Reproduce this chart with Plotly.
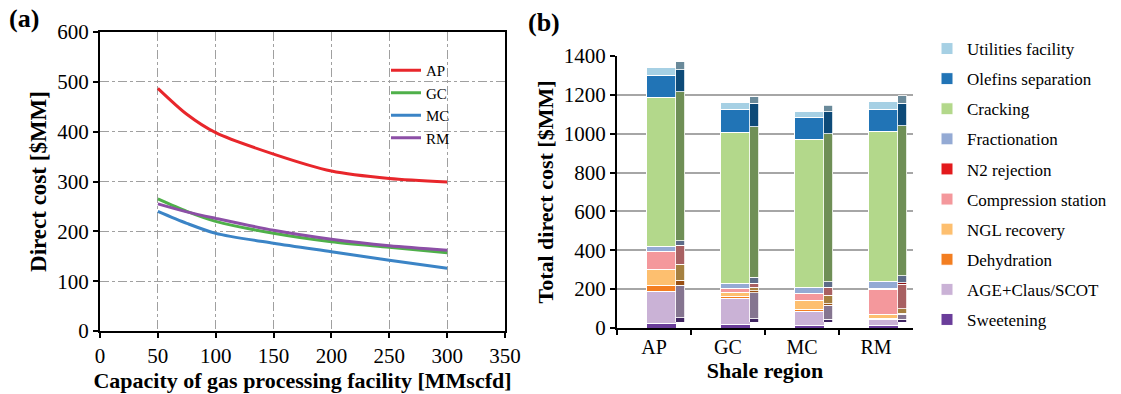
import plotly.graph_objects as go

# ---- Data: panel (a) ----
capacity = [50, 75, 100, 150, 200, 250, 300]
cost_AP = [487, 435, 398, 355, 321, 306, 299]
cost_GC = [265, 240, 220, 196, 179, 168, 157]
cost_MC = [240, 216, 196, 176, 159, 142, 126]
cost_RM = [255, 239, 226, 202, 184, 171, 162]

# ---- Data: panel (b) ----
regions = ["AP", "GC", "MC", "RM"]
sweetening = [24, 17, 14, 14]
age_claus = [165, 135, 72, 28]
dehydration = [28, 9, 9, 5]
ngl_recovery = [82, 20, 44, 23]
compression = [97, 20, 40, 126]
n2_rejection = [0, 0, 0, 8]
fractionation = [23, 29, 28, 35]
cracking = [766, 777, 762, 771]
olefins = [115, 120, 113, 117]
utilities = [40, 34, 34, 38]

FONT = "Liberation Serif"
fig = go.Figure()

line_series = [("AP", cost_AP, "#e8262b"), ("GC", cost_GC, "#4fb04a"),
               ("MC", cost_MC, "#3b84c6"), ("RM", cost_RM, "#8c4fa6")]
for name, vals, col in line_series:
    fig.add_trace(go.Scatter(x=capacity, y=vals, name=name, mode="lines",
                             line=dict(color=col, width=3, shape="spline", smoothing=0.8),
                             xaxis="x", yaxis="y", legend="legend2"))

# (name, values, front colour, side colour for the pseudo-3D depth face)
bar_series = [
    ("Sweetening", sweetening, "#6a3d9a", "#3f2460"),
    ("AGE+Claus/SCOT", age_claus, "#cab2d6", "#857590"),
    ("Dehydration", dehydration, "#f37e21", "#9a5014"),
    ("NGL recovery", ngl_recovery, "#fdbf6f", "#a58040"),
    ("Compression station", compression, "#f4989c", "#a86062"),
    ("N2 rejection", n2_rejection, "#e31a1c", "#8e1012"),
    ("Fractionation", fractionation, "#94aad4", "#5d6c88"),
    ("Cracking", cracking, "#b3d88b", "#6f8f56"),
    ("Olefins separation", olefins, "#2174b6", "#0d4a78"),
    ("Utilities facility", utilities, "#a6d0e4", "#6a8a9a"),
]
# side faces first (drawn behind), on an overlaying axis shifted slightly up
for name, vals, col, side in bar_series:
    fig.add_trace(go.Bar(x=regions, y=vals, name=name, showlegend=False, hoverinfo="skip",
                         marker=dict(color=side, line=dict(color="white", width=0.8)),
                         width=0.125, offset=0.292, xaxis="x2", yaxis="y3"))
for i, (name, vals, col, side) in enumerate(bar_series):
    fig.add_trace(go.Bar(x=regions, y=vals, name=name,
                         marker=dict(color=col, line=dict(color="white", width=1)),
                         width=0.4, offset=-0.1, xaxis="x2", yaxis="y2", legend="legend",
                         legendgroup=name, legendrank=100 - i))

W, H = 1121, 394
def px_x(p): return p / W
def px_y(p): return 1 - p / H

axis_font = dict(family=FONT, size=21, color="black")
title_font = dict(family=FONT, size=22, color="black", weight="bold")

common = dict(showline=True, linecolor="black", linewidth=2, ticks="outside", ticklen=5,
              tickwidth=2, tickcolor="black", automargin=False, zeroline=False)

fig.update_layout(
    width=W, height=H, margin=dict(l=0, r=0, t=0, b=0, autoexpand=False),
    paper_bgcolor="white", plot_bgcolor="white",
    barmode="stack", font=dict(family=FONT, color="black"),
    xaxis=dict(domain=[px_x(100), px_x(505)], range=[0, 350], dtick=50, mirror=True,
               showgrid=True, gridcolor="#a0a0a0", griddash="dashdot", gridwidth=1,
               tickfont=axis_font,
               title=dict(text="Capacity of gas processing facility [MMscfd]", font=title_font, standoff=2),
               **common),
    yaxis=dict(domain=[px_y(331), px_y(32)], range=[0, 600], dtick=100, mirror=True,
               showgrid=True, gridcolor="#a0a0a0", griddash="dashdot", gridwidth=1,
               tickfont=axis_font,
               title=dict(text="Direct cost [$MM]", font=dict(family=FONT, size=23, color="black", weight="bold"), standoff=4),
               **common),
    xaxis2=dict(domain=[px_x(617), px_x(913)], anchor="y2", type="category", tickson="boundaries",
                tickfont=dict(family=FONT, size=20, color="black"),
                title=dict(text="Shale region", font=title_font, standoff=2),
                **common),
    yaxis2=dict(domain=[px_y(328), px_y(56)], anchor="x2", range=[0, 1400], dtick=200,
                showgrid=True, gridcolor="#a6a6a6", gridwidth=1.5,
                tickfont=axis_font,
                title=dict(text="Total direct cost [$MM]", font=dict(family=FONT, size=22, color="black", weight="bold"), standoff=4),
                **common),
    yaxis3=dict(overlaying="y2", anchor="x2", range=[-30, 1370], visible=False, automargin=False),
    legend=dict(x=px_x(927), y=px_y(31), xanchor="left", yanchor="top",
                traceorder="grouped", tracegroupgap=5,
                font=dict(family=FONT, size=17, color="black"),
                bgcolor="rgba(0,0,0,0)", itemwidth=30),
    legend2=dict(x=px_x(386), y=px_y(54), xanchor="left", yanchor="top",
                 font=dict(family=FONT, size=15, color="black"),
                 bgcolor="rgba(0,0,0,0)"),
    annotations=[
        dict(text="<b>(a)</b>", x=px_x(7), y=px_y(18), xref="paper", yref="paper",
             xanchor="left", yanchor="middle", showarrow=False, font=dict(family=FONT, size=26, color="black")),
        dict(text="<b>(b)</b>", x=px_x(526), y=px_y(22), xref="paper", yref="paper",
             xanchor="left", yanchor="middle", showarrow=False, font=dict(family=FONT, size=26, color="black")),
    ],
)

fig.write_html("out.html", config={"displayModeBar": False},
               post_script="document.body.style.margin='0px';document.body.style.padding='0px';")
